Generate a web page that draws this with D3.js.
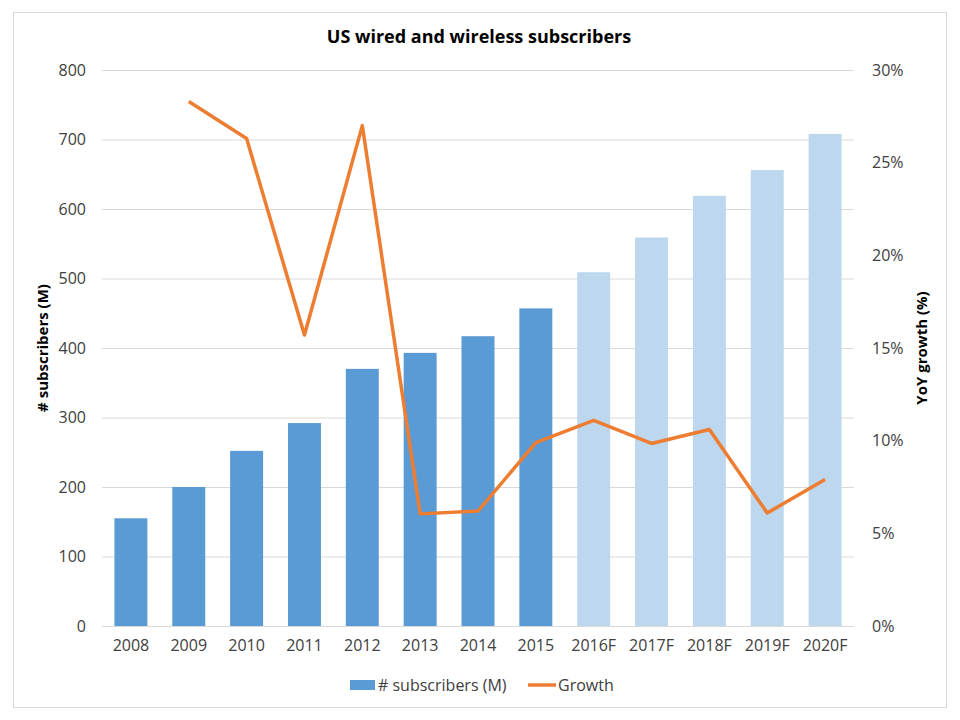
<!DOCTYPE html>
<html>
<head>
<meta charset="utf-8">
<script src="https://cdn.jsdelivr.net/npm/d3@7"></script>
<style>
  body { margin: 0; background: #fff; }
  text { font-family: "Open Sans", sans-serif; fill: #404040; }
</style>
</head>
<body>
<div id="chart"></div>
<script>
// Chart data
const years = ["2008", "2009", "2010", "2011", "2012", "2013", "2014", "2015",
               "2016F", "2017F", "2018F", "2019F", "2020F"];
const subscribers = [155, 200, 252, 292, 370, 393, 417, 457, 509, 559, 619, 656, 708];
const forecast = [false, false, false, false, false, false, false, false, true, true, true, true, true];
const growth = [null, 28.3, 26.3, 15.7, 27.0, 6.05, 6.2, 9.9, 11.1, 9.85, 10.6, 6.1, 7.9];
const leftTicks = [0, 100, 200, 300, 400, 500, 600, 700, 800];
const rightTicks = [0, 5, 10, 15, 20, 25, 30];

const width = 960;
const height = 720;
const margin = { top: 70, right: 106, bottom: 94, left: 102 };
const font = "'Open Sans', sans-serif";

const svg = d3.select("#chart").append("svg")
    .attr("width", width)
    .attr("height", height);

// Outer frame
svg.append("rect")
    .attr("x", 13.5).attr("y", 12.5)
    .attr("width", 933).attr("height", 695)
    .attr("fill", "#fff")
    .attr("stroke", "#d9d9d9");

const x = d3.scaleBand()
    .domain(years)
    .range([margin.left, width - margin.right])
    .paddingInner(0.43)
    .paddingOuter(0.215);

const yLeft = d3.scaleLinear()
    .domain([0, 800])
    .range([height - margin.bottom, margin.top]);

const yRight = d3.scaleLinear()
    .domain([0, 30])
    .range([height - margin.bottom, margin.top]);

// Gridlines
svg.append("g")
    .selectAll("line")
    .data(leftTicks)
    .join("line")
    .attr("x1", margin.left)
    .attr("x2", width - margin.right)
    .attr("y1", d => yLeft(d) + 0.5)
    .attr("y2", d => yLeft(d) + 0.5)
    .attr("stroke", "#d9d9d9");

// Left axis
const leftAxis = svg.append("g")
    .attr("transform", `translate(${margin.left},0)`)
    .call(d3.axisLeft(yLeft).tickValues(leftTicks).tickSize(0).tickPadding(16));
leftAxis.select(".domain").remove();
leftAxis.selectAll("text").attr("font-size", 16).style("font-family", font).attr("fill", "#404040");

// Right axis
const rightAxis = svg.append("g")
    .attr("transform", `translate(${width - margin.right},0)`)
    .call(d3.axisRight(yRight).tickValues(rightTicks).tickFormat(d => d + "%").tickSize(0).tickPadding(18));
rightAxis.select(".domain").remove();
rightAxis.selectAll("text").attr("font-size", 16).style("font-family", font).attr("fill", "#404040");

// Bottom axis
const bottomAxis = svg.append("g")
    .attr("transform", `translate(0,${height - margin.bottom})`)
    .call(d3.axisBottom(x).tickSize(0).tickPadding(14));
bottomAxis.select(".domain").remove();
bottomAxis.selectAll("text").attr("font-size", 16).style("font-family", font).attr("fill", "#404040");

// Bars
svg.append("g")
    .selectAll("rect")
    .data(years)
    .join("rect")
    .attr("x", d => x(d))
    .attr("y", (d, i) => yLeft(subscribers[i]))
    .attr("width", x.bandwidth())
    .attr("height", (d, i) => yLeft(0) - yLeft(subscribers[i]))
    .attr("fill", (d, i) => forecast[i] ? "#bdd7ee" : "#5b9bd5");

// Growth line
const lineData = years.map((d, i) => ({ year: d, value: growth[i] })).filter(d => d.value !== null);
const line = d3.line()
    .x(d => x(d.year) + x.bandwidth() / 2)
    .y(d => yRight(d.value));

svg.append("path")
    .datum(lineData)
    .attr("d", line)
    .attr("fill", "none")
    .attr("stroke", "#ed7d31")
    .attr("stroke-width", 3.5)
    .attr("stroke-linejoin", "round");

// Title
svg.append("text")
    .attr("x", 479)
    .attr("y", 43)
    .attr("text-anchor", "middle")
    .attr("font-size", 18)
    .attr("font-weight", "bold")
    .style("fill", "#000")
    .text("US wired and wireless subscribers");

// Axis titles
svg.append("text")
    .attr("transform", `translate(48,${(margin.top + height - margin.bottom) / 2}) rotate(-90)`)
    .attr("text-anchor", "middle")
    .attr("font-size", 15)
    .attr("font-weight", "bold")
    .style("fill", "#000")
    .text("# subscribers (M)");

svg.append("text")
    .attr("transform", `translate(927,${(margin.top + height - margin.bottom) / 2}) rotate(-90)`)
    .attr("text-anchor", "middle")
    .attr("font-size", 15)
    .attr("font-weight", "bold")
    .style("fill", "#000")
    .text("YoY growth (%)");

// Legend
const legend = svg.append("g");
legend.append("rect")
    .attr("x", 350).attr("y", 680)
    .attr("width", 25).attr("height", 10)
    .attr("fill", "#5b9bd5");
legend.append("text")
    .attr("x", 378).attr("y", 691)
    .attr("font-size", 16)
    .text("# subscribers (M)");
legend.append("line")
    .attr("x1", 528).attr("x2", 556)
    .attr("y1", 685).attr("y2", 685)
    .attr("stroke", "#ed7d31")
    .attr("stroke-width", 3.5);
legend.append("text")
    .attr("x", 558).attr("y", 691)
    .attr("font-size", 16)
    .text("Growth");
</script>
</body>
</html>
